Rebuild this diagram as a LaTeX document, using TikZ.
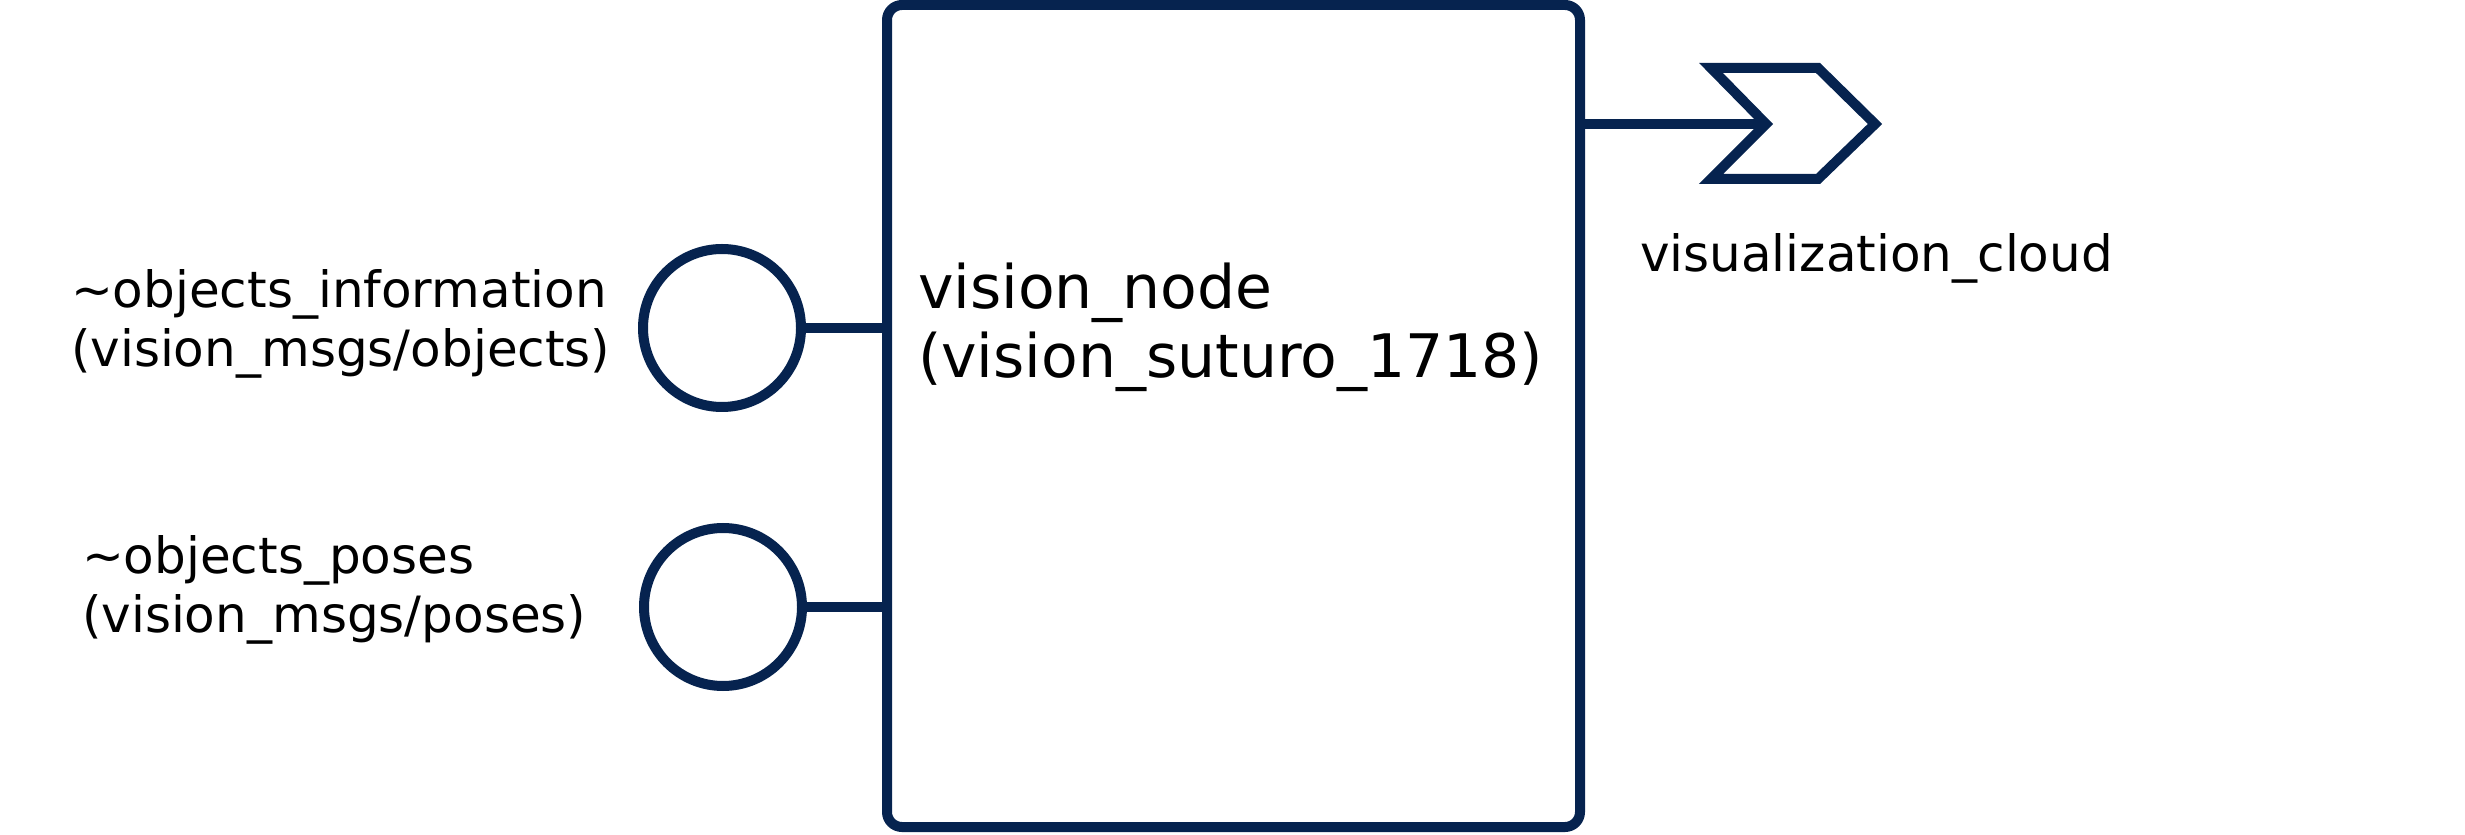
\documentclass[tikz,border=0pt]{standalone}
\usepackage{fontspec}
\setmainfont{DejaVu Sans}
\usetikzlibrary{positioning}
\definecolor{rosblue}{HTML}{06234F}

\begin{document}
\begin{tikzpicture}[line width=0.1cm,
    nodebox/.style={draw=rosblue,rounded corners=0.15cm,minimum width=6.93cm,minimum height=8.22cm,inner sep=0pt,outer sep=0pt},
    subport/.style={draw=rosblue,fill=white,circle,minimum size=1.58cm,inner sep=0pt,outer sep=0pt},
    toptext/.style={align=left,inner sep=0pt,anchor=base west,font=\fontsize{14.23}{16.8}\selectfont},
    nametext/.style={align=left,inner sep=0pt,anchor=base west,font=\fontsize{17.07}{19.9}\selectfont}]
  \useasboundingbox (0,0) rectangle (24.65,8.34);
  \node[nodebox] (vnode) at (12.335,4.18) {};
  \node[nametext] (vname) at (9.13,4.56) {vision\_node\\(vision\_suturo\_1718)};
  % subscribers
  \node[subport] (objinfo) at (7.22,5.06) {};
  \node[subport] (objposes) at (7.23,2.27) {};
  \draw[rosblue] (objinfo.east) -- (objinfo -| vnode.west);
  \draw[rosblue] (objposes.east) -- (objposes -| vnode.west);
  \node[toptext] (infotext) at (0.66,4.67) {\textasciitilde objects\_information\\(vision\_msgs/objects)};
  \node[toptext] (posetext) at (0.77,2.01) {\textasciitilde objects\_poses\\(vision\_msgs/poses)};
  % publisher
  \coordinate (notch) at (17.66,7.10);
  \draw[rosblue] (17.11,7.66) coordinate (chtl) -- (18.18,7.66) -- (18.75,7.10) -- (18.18,6.55) -- (17.11,6.55) -- (notch) -- cycle;
  \draw[rosblue] (vnode.east |- notch) -- (notch);
  \node[toptext] (cloudtext) at (16.35,5.62) {visualization\_cloud};
\end{tikzpicture}
\end{document}
